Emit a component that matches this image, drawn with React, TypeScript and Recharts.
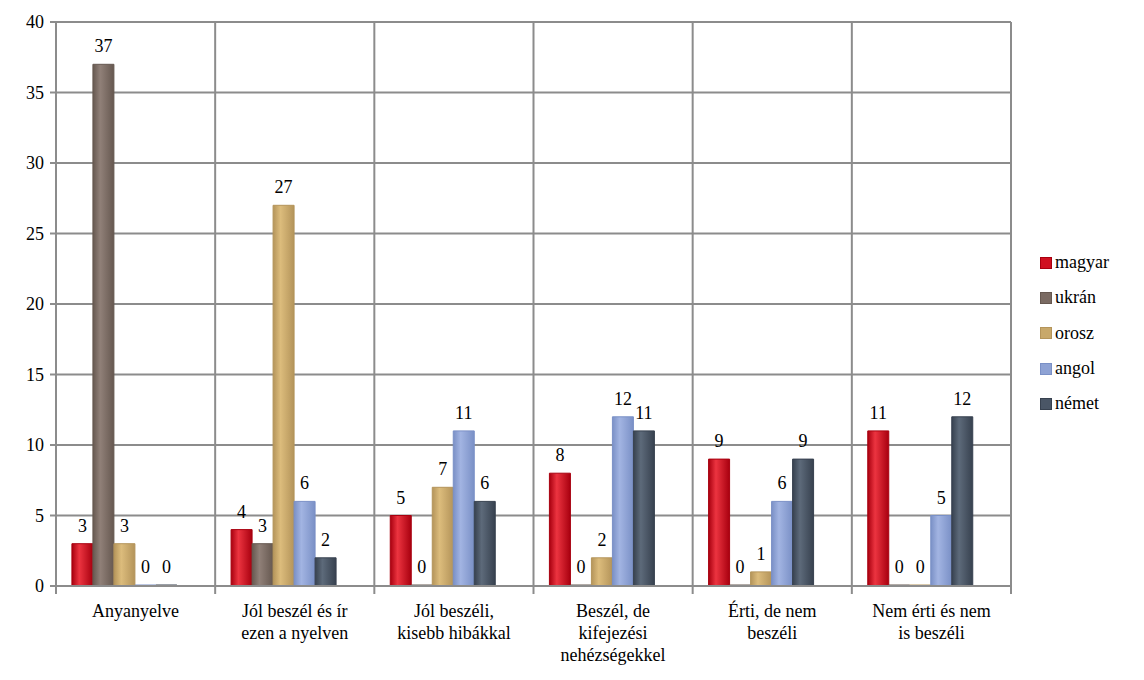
import React from "react";
import { BarChart, Bar, XAxis, YAxis, CartesianGrid, LabelList } from "recharts";

const categories = [
  "Anyanyelve",
  "Jól beszél és ír ezen a nyelven",
  "Jól beszéli, kisebb hibákkal",
  "Beszél, de kifejezési nehézségekkel",
  "Érti, de nem beszéli",
  "Nem érti és nem is beszéli",
];
const categoryLines: string[][] = [
  ["Anyanyelve"],
  ["Jól beszél és ír", "ezen a nyelven"],
  ["Jól beszéli,", "kisebb hibákkal"],
  ["Beszél, de", "kifejezési", "nehézségekkel"],
  ["Érti, de nem", "beszéli"],
  ["Nem érti és nem", "is beszéli"],
];
const magyar = [3, 4, 5, 8, 9, 11];
const ukran = [37, 3, 0, 0, 0, 0];
const orosz = [3, 27, 7, 2, 1, 0];
const angol = [0, 6, 11, 12, 6, 5];
const nemet = [0, 2, 6, 11, 9, 12];
const yTicks = [0, 5, 10, 15, 20, 25, 30, 35, 40];

const seriesInfo = [
  { key: "magyar", name: "magyar", edge: "#a8000f", mid: "#ec3440", legend: "#d01020" },
  { key: "ukran", name: "ukrán", edge: "#665850", mid: "#908078", legend: "#7a6a62" },
  { key: "orosz", name: "orosz", edge: "#b4945a", mid: "#dcbc7c", legend: "#c8a86a" },
  { key: "angol", name: "angol", edge: "#7a90c6", mid: "#a2b4e2", legend: "#8ea2d4" },
  { key: "nemet", name: "német", edge: "#37414f", mid: "#5d6a7a", legend: "#4a5666" },
];

const data = categories.map((c, i) => ({
  cat: c,
  magyar: magyar[i],
  ukran: ukran[i],
  orosz: orosz[i],
  angol: angol[i],
  nemet: nemet[i],
}));

const W = 1144;
const H = 680;
const M = { top: 22, right: 133, left: 0, bottom: 0 };
const YW = 56;
const XH = 94;
const FONT = "'Liberation Serif', 'DejaVu Serif', serif";
const GRID = "#8c8c8c";
const band = (W - M.right - M.left - YW) / categories.length;

const XTick = (props: any) => {
  const { x, y, payload, index } = props;
  const i0 = payload.index ?? index;
  const lines = categoryLines[i0] || [payload.value];
  return (
    <g>
      <line x1={x - band / 2} x2={x - band / 2} y1={y - 8} y2={y} stroke={GRID} strokeWidth={2} />
      {i0 === categories.length - 1 && (
        <line x1={x + band / 2} x2={x + band / 2} y1={y - 8} y2={y} stroke={GRID} strokeWidth={2} />
      )}
      {lines.map((l, i) => (
        <text key={i} x={x} y={y + 23 + i * 22} textAnchor="middle" fontFamily={FONT} fontSize={18} fill="#000">
          {l}
        </text>
      ))}
    </g>
  );
};

const YTick = (props: any) => {
  const { x, y, payload } = props;
  return (
    <text x={x - 4} y={y + 6} textAnchor="end" fontFamily={FONT} fontSize={18} fill="#000">
      {payload.value}
    </text>
  );
};

const BarLabel = (props: any) => {
  const { x, y, width, value } = props;
  return (
    <text x={x + width / 2} y={y - 12} textAnchor="middle" fontFamily={FONT} fontSize={18} fill="#000">
      {value}
    </text>
  );
};

const LegendBox = () => (
  <div style={{ position: "absolute", left: 1040, top: 245, fontFamily: FONT, fontSize: 18, color: "#000" }}>
    {seriesInfo.map((s) => (
      <div key={s.key} style={{ display: "flex", alignItems: "center", height: 35.3 }}>
        <span
          style={{
            display: "inline-block",
            width: 10,
            height: 10,
            background: s.legend,
            border: `1px solid ${s.edge}`,
            marginRight: 3,
          }}
        />
        <span>{s.name}</span>
      </div>
    ))}
  </div>
);

export default function App() {
  return (
    <div style={{ position: "absolute", left: 0, top: 0, width: W, height: H, background: "#fff", fontFamily: FONT }}>
      <BarChart width={W} height={H} data={data} margin={M} barCategoryGap="10%" barGap={0} style={{ fontFamily: FONT }}>
        <defs>
          {seriesInfo.map((s) => (
            <linearGradient key={s.key} id={`g-${s.key}`} x1="0" y1="0" x2="1" y2="0">
              <stop offset="0%" stopColor={s.edge} />
              <stop offset="35%" stopColor={s.mid} />
              <stop offset="100%" stopColor={s.edge} />
            </linearGradient>
          ))}
        </defs>
        <CartesianGrid
          stroke={GRID}
          strokeWidth={2}
          verticalCoordinatesGenerator={({ offset }: any) =>
            categories
              .map((_, i) => offset.left + i * (offset.width / categories.length))
              .concat([offset.left + offset.width])
          }
        />
        <XAxis
          dataKey="cat"
          height={XH}
          interval={0}
          tick={<XTick />}
          tickLine={false}
          axisLine={{ stroke: GRID, strokeWidth: 2 }}
        />
        <YAxis
          width={YW}
          domain={[0, 40]}
          ticks={yTicks}
          interval={0}
          tick={<YTick />}
          tickLine={{ stroke: GRID, strokeWidth: 2 }}
          tickSize={6}
          axisLine={{ stroke: GRID, strokeWidth: 2 }}
        />
        {seriesInfo.map((s) => (
          <Bar
            key={s.key}
            dataKey={s.key}
            name={s.name}
            fill={`url(#g-${s.key})`}
            stroke={s.edge}
            strokeWidth={1}
            minPointSize={1}
            isAnimationActive={false}
          >
            <LabelList dataKey={s.key} content={<BarLabel />} />
          </Bar>
        ))}
        <Bar dataKey="spacer" legendType="none" isAnimationActive={false} />
      </BarChart>
      <LegendBox />
    </div>
  );
}
